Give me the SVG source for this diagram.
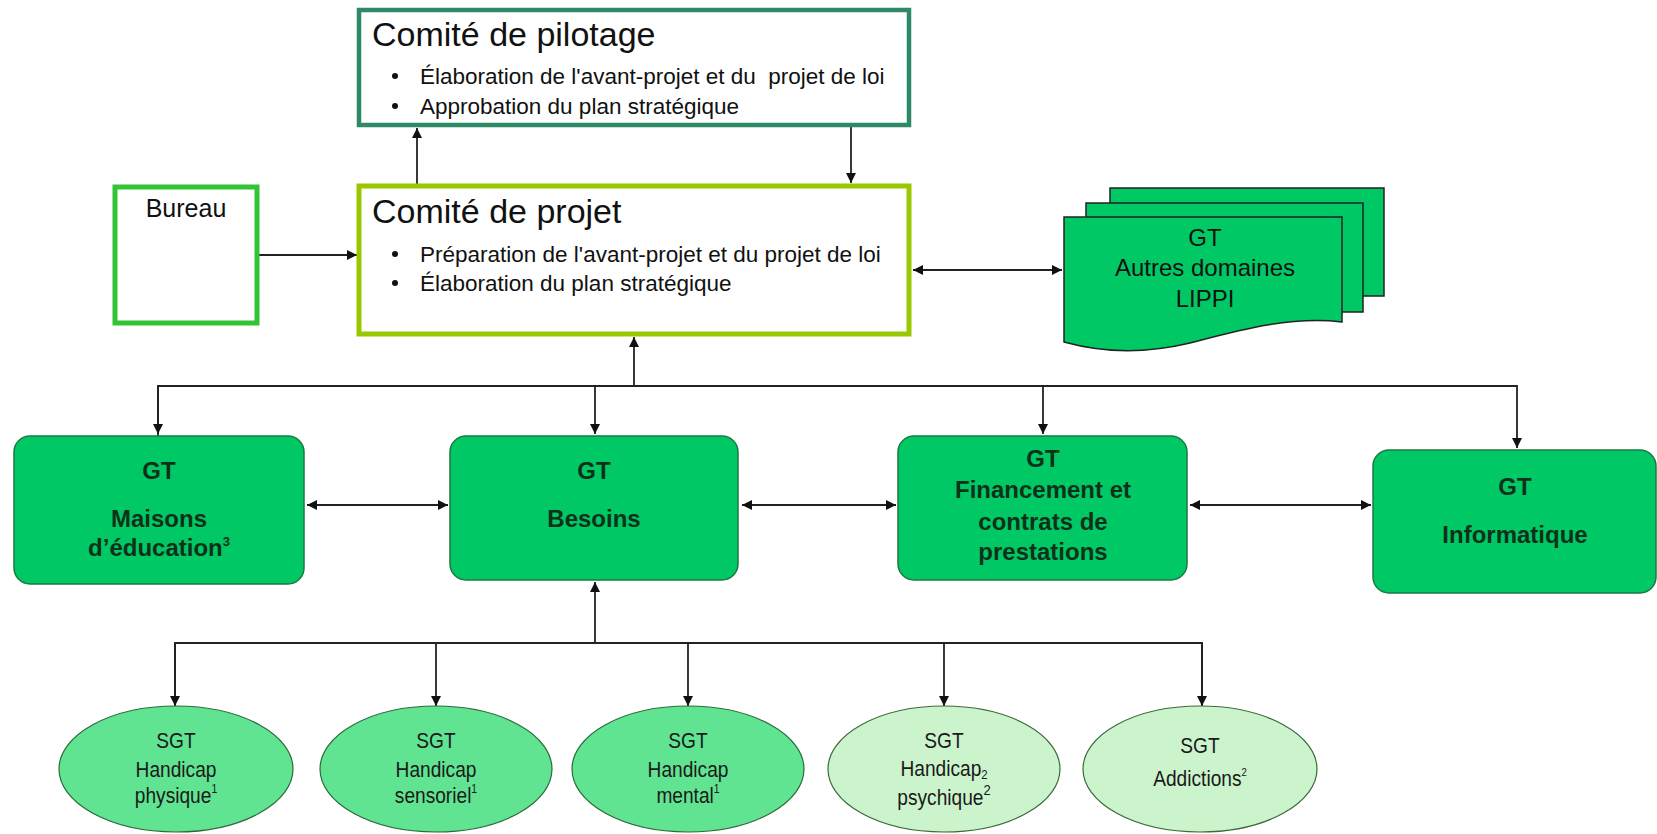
<svg xmlns="http://www.w3.org/2000/svg" width="1657" height="834" viewBox="0 0 1657 834">
<defs>
<marker id="ah" viewBox="0 0 10 10" refX="10" refY="5" markerWidth="10" markerHeight="10" markerUnits="userSpaceOnUse" orient="auto-start-reverse">
<path d="M0,0 L10,5 L0,10 Z" fill="#111"/>
</marker>
<style>
.t{font-family:"Liberation Sans",Arial,sans-serif;fill:#111}
.title{font-size:34px}
.bul{font-size:22.5px}
.gt{font-family:"Liberation Sans",Arial,sans-serif;font-size:24px;font-weight:bold;fill:#10301a;text-anchor:middle}
.sgt{font-family:"Liberation Sans",Arial,sans-serif;font-size:22px;fill:#1a1a1a;text-anchor:middle}
.box{fill:#00c864;stroke:#1a7a40;stroke-width:1.5}
.ell1{fill:#60e492;stroke:#2a6a3a;stroke-width:1.2}
.ell2{fill:#ccf4cc;stroke:#3a6a3a;stroke-width:1.2}
.doc{fill:#00c864;stroke:#222;stroke-width:1.5}
.c{fill:none;stroke:#222;stroke-width:1.8}
</style>
</defs>
<rect width="1657" height="834" fill="#fff"/>

<g id="connectors">
<line class="c" x1="417" y1="185" x2="417" y2="128" marker-end="url(#ah)"/>
<line class="c" x1="851" y1="125" x2="851" y2="183" marker-end="url(#ah)"/>
<line class="c" x1="258" y1="255" x2="357" y2="255" marker-end="url(#ah)"/>
<line class="c" x1="913" y1="270" x2="1062" y2="270" marker-start="url(#ah)" marker-end="url(#ah)"/>
<line class="c" x1="634" y1="386" x2="634" y2="337" marker-end="url(#ah)"/>
<polyline class="c" points="158,436 158,386 1517,386 1517,448" marker-end="url(#ah)"/>
<line class="c" x1="158" y1="386" x2="158" y2="434" marker-end="url(#ah)"/>
<line class="c" x1="595" y1="386" x2="595" y2="434" marker-end="url(#ah)"/>
<line class="c" x1="1043" y1="386" x2="1043" y2="434" marker-end="url(#ah)"/>
<line class="c" x1="307" y1="505" x2="448" y2="505" marker-start="url(#ah)" marker-end="url(#ah)"/>
<line class="c" x1="742" y1="505" x2="896" y2="505" marker-start="url(#ah)" marker-end="url(#ah)"/>
<line class="c" x1="1190" y1="505" x2="1371" y2="505" marker-start="url(#ah)" marker-end="url(#ah)"/>
<line class="c" x1="595" y1="643" x2="595" y2="582" marker-end="url(#ah)"/>
<polyline class="c" points="175,705 175,643 1202,643 1202,705"/>
<line class="c" x1="175" y1="643" x2="175" y2="706" marker-end="url(#ah)"/>
<line class="c" x1="436" y1="643" x2="436" y2="706" marker-end="url(#ah)"/>
<line class="c" x1="688" y1="643" x2="688" y2="706" marker-end="url(#ah)"/>
<line class="c" x1="944" y1="643" x2="944" y2="706" marker-end="url(#ah)"/>
<line class="c" x1="1202" y1="643" x2="1202" y2="706" marker-end="url(#ah)"/>
</g>

<g id="comite-pilotage">
<rect x="359" y="10" width="550" height="115" fill="#fff" stroke="#2e8a66" stroke-width="4.5"/>
<text class="t title" x="372" y="46">Comité de pilotage</text>
<circle cx="395" cy="76" r="3" fill="#111"/>
<text class="t bul" x="420" y="84" xml:space="preserve">Élaboration de l'avant-projet et du  projet de loi</text>
<circle cx="395" cy="106" r="3" fill="#111"/>
<text class="t bul" x="420" y="114">Approbation du plan stratégique</text>
</g>

<g id="bureau">
<rect x="115" y="187" width="142" height="136" fill="#fff" stroke="#33c433" stroke-width="5"/>
<text class="t" x="186" y="217" font-size="25" text-anchor="middle">Bureau</text>
</g>

<g id="comite-projet">
<rect x="359" y="186" width="550" height="148" fill="#fff" stroke="#99c800" stroke-width="5"/>
<text class="t title" x="372" y="223">Comité de projet</text>
<circle cx="395" cy="254" r="3" fill="#111"/>
<text class="t bul" x="420" y="262">Préparation de l'avant-projet et du projet de loi</text>
<circle cx="395" cy="283" r="3" fill="#111"/>
<text class="t bul" x="420" y="291">Élaboration du plan stratégique</text>
</g>

<g id="gt-autres">
<rect class="doc" x="1110" y="188" width="274" height="108"/>
<rect class="doc" x="1086" y="203" width="277" height="109"/>
<path class="doc" d="M1064,217 H1342 V322 C1290,316 1240,330 1190,343 C1140,355 1100,352 1064,342 Z"/>
<text class="t" x="1205" y="246" font-size="24" text-anchor="middle" fill="#1a1a1a">GT</text>
<text class="t" x="1205" y="276" font-size="24" text-anchor="middle" fill="#1a1a1a">Autres domaines</text>
<text class="t" x="1205" y="307" font-size="24" text-anchor="middle" fill="#1a1a1a">LIPPI</text>
</g>

<g id="gt-maisons">
<rect class="box" x="14" y="436" width="290" height="148" rx="16"/>
<text class="gt" x="159" y="479">GT</text>
<text class="gt" x="159" y="527">Maisons</text>
<text class="gt" x="159" y="556">d’éducation<tspan font-size="13" dy="-10">3</tspan></text>
</g>

<g id="gt-besoins">
<rect class="box" x="450" y="436" width="288" height="144" rx="16"/>
<text class="gt" x="594" y="479">GT</text>
<text class="gt" x="594" y="527">Besoins</text>
</g>

<g id="gt-financement">
<rect class="box" x="898" y="436" width="289" height="144" rx="16"/>
<text class="gt" x="1043" y="467">GT</text>
<text class="gt" x="1043" y="498">Financement et</text>
<text class="gt" x="1043" y="530">contrats de</text>
<text class="gt" x="1043" y="560">prestations</text>
</g>

<g id="gt-informatique">
<rect class="box" x="1373" y="450" width="283" height="143" rx="16"/>
<text class="gt" x="1515" y="495">GT</text>
<text class="gt" x="1515" y="543">Informatique</text>
</g>

<g id="sgt-physique">
<ellipse class="ell1" cx="176" cy="769" rx="117" ry="63"/>
<g transform="translate(176,0) scale(0.87,1)">
<text class="sgt" x="0" y="748">SGT</text>
<text class="sgt" x="0" y="777">Handicap</text>
<text class="sgt" x="0" y="803">physique<tspan font-size="12" dy="-10">1</tspan></text>
</g>
</g>

<g id="sgt-sensoriel">
<ellipse class="ell1" cx="436" cy="769" rx="116" ry="63"/>
<g transform="translate(436,0) scale(0.87,1)">
<text class="sgt" x="0" y="748">SGT</text>
<text class="sgt" x="0" y="777">Handicap</text>
<text class="sgt" x="0" y="803">sensoriel<tspan font-size="12" dy="-10">1</tspan></text>
</g>
</g>

<g id="sgt-mental">
<ellipse class="ell1" cx="688" cy="769" rx="116" ry="63"/>
<g transform="translate(688,0) scale(0.87,1)">
<text class="sgt" x="0" y="748">SGT</text>
<text class="sgt" x="0" y="777">Handicap</text>
<text class="sgt" x="0" y="803">mental<tspan font-size="12" dy="-10">1</tspan></text>
</g>
</g>

<g id="sgt-psychique">
<ellipse class="ell2" cx="944" cy="769" rx="116" ry="63"/>
<g transform="translate(944,0) scale(0.87,1)">
<text class="sgt" x="0" y="748">SGT</text>
<text class="sgt" x="0" y="776">Handicap<tspan font-size="13" dy="3">2</tspan></text>
<text class="sgt" x="0" y="805">psychique<tspan font-size="15" dy="-10">2</tspan></text>
</g>
</g>

<g id="sgt-addictions">
<ellipse class="ell2" cx="1200" cy="769" rx="117" ry="63"/>
<g transform="translate(1200,0) scale(0.87,1)">
<text class="sgt" x="0" y="753">SGT</text>
<text class="sgt" x="0" y="786">Addictions<tspan font-size="11" dy="-10">2</tspan></text>
</g>
</g>
</svg>
